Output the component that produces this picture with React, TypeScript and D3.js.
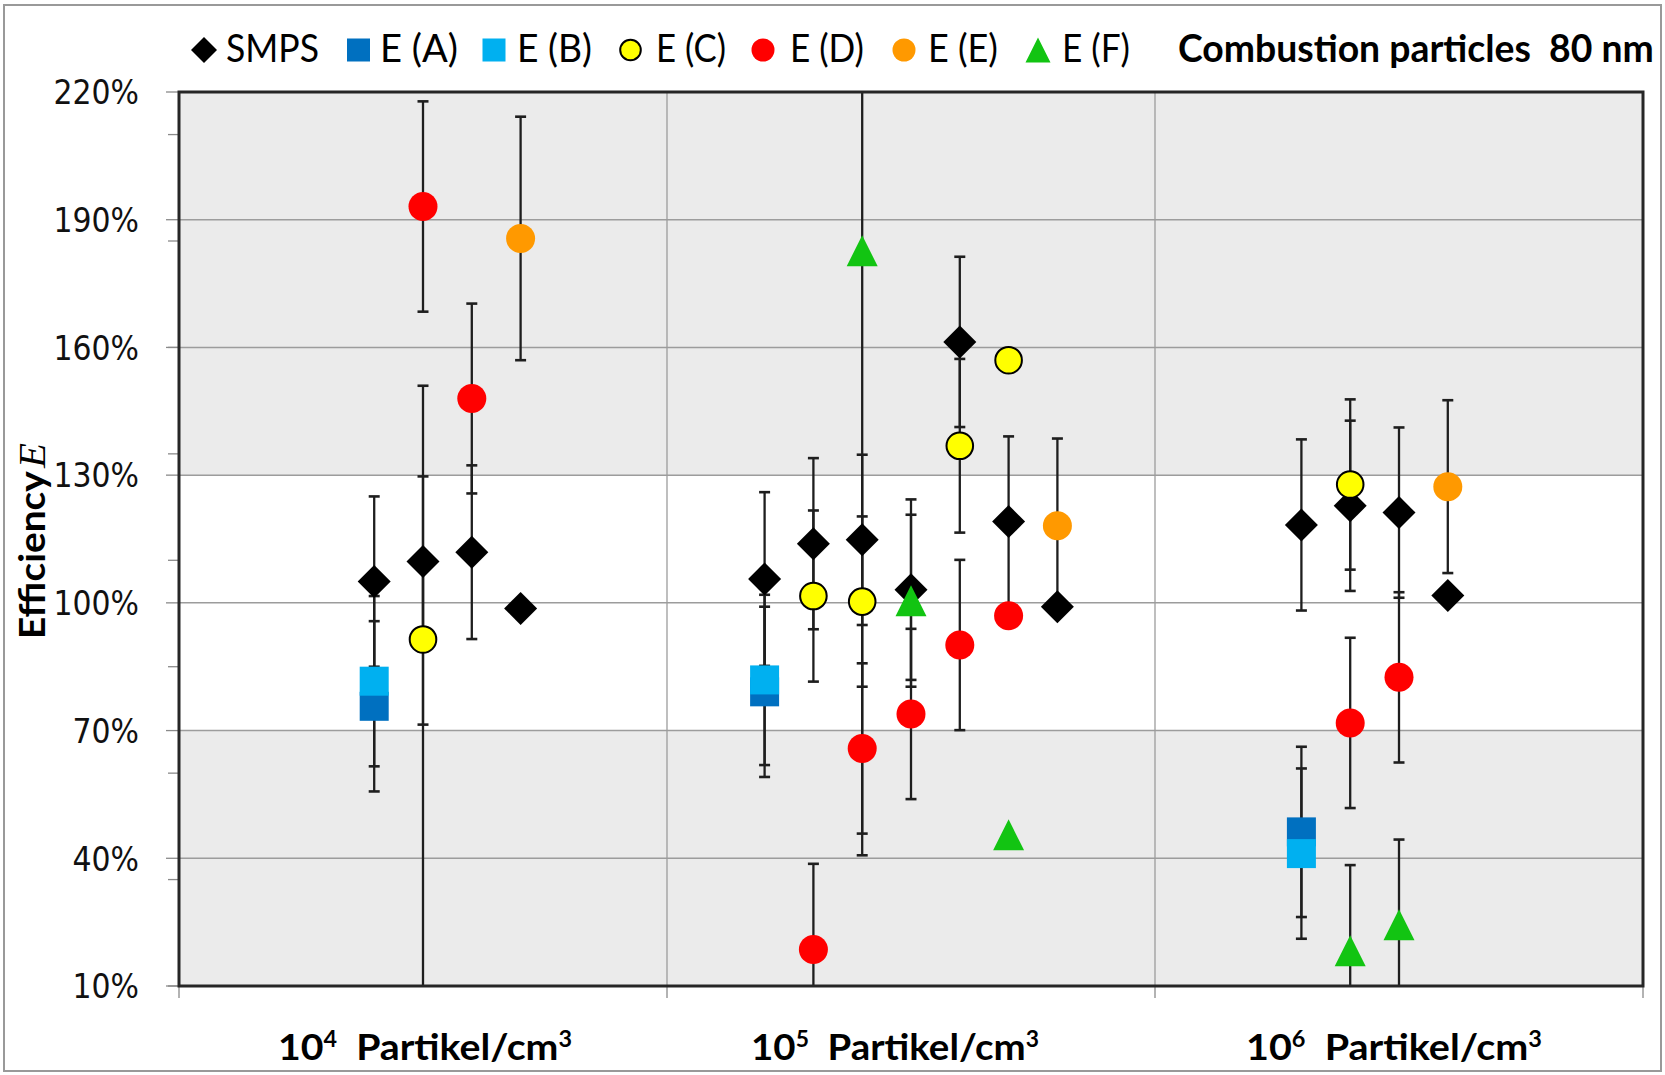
import React, { useRef, useState, useLayoutEffect } from 'react';
import * as d3 from 'd3';

// ---------- data ----------
const seriesNames = ['SMPS', 'E (A)', 'E (B)', 'E (C)', 'E (D)', 'E (E)', 'E (F)'];
const categoryExponents = ['4', '5', '6'];
const yTicks = [10, 40, 70, 100, 130, 160, 190, 220];
const minorTicks = [10, 35, 60, 85, 110, 135, 160, 185, 210];
const categoryBounds = [0, 10, 20, 30];

// [slot x, efficiency %, error ± (null = none)]
const smps: [number, number, number | null][] = [
  [4, 105.0, 20], [5, 109.7, 20], [6, 111.9, 20.4], [7, 98.7, null],
  [12, 105.6, 20.4], [13, 113.9, 20.1], [14, 114.8, 20], [15, 103.1, 21.2], [16, 161.3, 20], [17, 119.1, 20], [18, 99.1, null],
  [23, 118.3, 20.1], [24, 122.8, 20], [25, 121.2, 20], [26, 101.7, null],
];
const eA: [number, number, number | null][] = [[4, 75.7, 20], [12, 79.1, 20], [23, 46.2, 20]];
const eB: [number, number, number | null][] = [[4, 81.6, 20], [12, 81.9, 20], [23, 41.1, 20]];
const eC: [number, number, number | null][] = [
  [5, 91.4, 20], [13, 101.6, 20.1], [14, 100.3, 20], [16, 136.9, 20.4], [17, 157.0, null], [24, 127.8, 20],
];
const eD: [number, number, number | null][] = [
  [5, 193.1, 24.7], [6, 148.0, 22.3], [13, 18.6, 20.1], [14, 65.8, 20], [15, 73.9, 20], [16, 90.1, 20], [17, 97.0, null],
  [24, 71.8, 20], [25, 82.5, 20],
];
const eE: [number, number, number | null][] = [[7, 185.6, 28.6], [18, 118.1, 20.5], [26, 127.3, 20.3]];
const eF: [number, number, number | null][] = [
  [5, 5, 146], [14, 182.7, 142], [15, 100.5, 20.2], [17, 45.5, null], [24, 18.3, 20.1], [25, 24.4, 20],
];
const allSeries = [smps, eA, eB, eC, eD, eE, eF];

// ---------- styles ----------
type Shape = 'diamond' | 'square' | 'circle' | 'triangle';
const styles: { shape: Shape; fill: string; stroke?: string }[] = [
  { shape: 'diamond', fill: '#000000' },
  { shape: 'square', fill: '#0070C0' },
  { shape: 'square', fill: '#00B0F0' },
  { shape: 'circle', fill: '#FFFF00', stroke: '#000' },
  { shape: 'circle', fill: '#FF0000' },
  { shape: 'circle', fill: '#FF9900' },
  { shape: 'triangle', fill: '#12C412' },
];
const legendMarkerX = [204, 358.5, 494, 630.5, 763, 904, 1038];
const legendTextX = [226, 380, 517, 656, 790, 928, 1062];
const legendTextW = [93, 78, 75, 70, 74, 70, 68];

const W = 1665, H = 1075;
const L = 179, R = 1643, T = 92, B = 986;

function FitText(props: {
  x: number; y: number; width: number; anchor?: 'start' | 'middle' | 'end';
  style?: React.CSSProperties; children: React.ReactNode;
}) {
  const ref = useRef<SVGTextElement>(null);
  const [s, setS] = useState(1);
  useLayoutEffect(() => {
    if (ref.current) {
      const w = ref.current.getBBox().width;
      if (w > 0) setS(props.width / w);
    }
  }, [props.width]);
  return (
    <g transform={`translate(${props.x},${props.y}) scale(${s},1)`}>
      <text ref={ref} x={0} y={0} textAnchor={props.anchor || 'start'} style={props.style}>
        {props.children}
      </text>
    </g>
  );
}

function marker(shape: Shape, cx: number, cy: number, size: number, fill: string, stroke?: string, key?: string) {
  const h = size / 2;
  if (shape === 'diamond') {
    return <path key={key} d={`M${cx},${cy - h}L${cx + h},${cy}L${cx},${cy + h}L${cx - h},${cy}Z`} fill={fill} />;
  }
  if (shape === 'square') {
    return <rect key={key} x={cx - h} y={cy - h} width={size} height={size} fill={fill} />;
  }
  if (shape === 'circle') {
    return stroke
      ? <circle key={key} cx={cx} cy={cy} r={h - 1.2} fill={fill} stroke={stroke} strokeWidth={2} />
      : <circle key={key} cx={cx} cy={cy} r={h} fill={fill} />;
  }
  return <path key={key} d={`M${cx},${cy - h}L${cx + h},${cy + h}L${cx - h},${cy + h}Z`} fill={fill} />;
}

export default function App() {
  const x = d3.scaleLinear().domain([0, 30]).range([L, R]);
  const y = d3.scaleLinear().domain([10, 220]).range([B, T]);
  const [lo, hi] = y.domain();
  const inDom = (v: number) => v >= lo - 0.01 && v <= hi + 0.01;
  const markerSize: Record<Shape, number> = { diamond: 33, square: 29, circle: 29, triangle: 31 };
  const legendSize: Record<Shape, number> = { diamond: 26, square: 23, circle: 23, triangle: 25 };

  const catLabelCenters = [425, 895, 1394];
  const catLabelW = [294, 288, 296];

  return (
    <svg width={W} height={H} style={{ position: 'absolute', left: 0, top: 0, background: '#fff' }}>
      <defs>
        <clipPath id="plotclip"><rect x={L} y={T} width={R - L} height={B - T} /></clipPath>
      </defs>
      <rect x={4} y={5} width={W - 8} height={H - 9} fill="#fff" stroke="#999" strokeWidth={2} />

      {/* plot background */}
      <rect x={L} y={T} width={R - L} height={B - T} fill="#EBEBEB" />
      <rect x={L} y={y(130)} width={R - L} height={y(70) - y(130)} fill="#FFFFFF" />

      {/* gridlines */}
      {yTicks.map(t => (
        <line key={'g' + t} x1={L} x2={R} y1={y(t)} y2={y(t)} stroke="#9C9C9C" strokeWidth={1.5} />
      ))}
      {categoryBounds.slice(1, -1).map(c => (
        <line key={'v' + c} x1={x(c)} x2={x(c)} y1={T} y2={B} stroke="#9C9C9C" strokeWidth={1.3} />
      ))}

      {/* y ticks */}
      {yTicks.map(t => (
        <line key={'mt' + t} x1={L - 13} x2={L} y1={y(t)} y2={y(t)} stroke="#8A8A8A" strokeWidth={1.3} />
      ))}
      {minorTicks.map(t => (
        <line key={'nt' + t} x1={L - 11} x2={L} y1={y(t)} y2={y(t)} stroke="#8A8A8A" strokeWidth={1.3} />
      ))}
      {/* x ticks */}
      {categoryBounds.map(c => (
        <line key={'xt' + c} x1={x(c)} x2={x(c)} y1={B} y2={B + 12} stroke="#8A8A8A" strokeWidth={1.3} />
      ))}

      {/* error bars */}
      <g clipPath="url(#plotclip)">
        {allSeries.map((ser, si) => ser.map(([sx, v, e], i) => {
          if (e == null) return null;
          const cx = x(sx);
          const top = v + e, bot = v - e;
          return (
            <g key={`e${si}-${i}`} stroke="#1E1E1E" strokeWidth={2.3}>
              <line x1={cx} x2={cx} y1={y(Math.min(top, hi + 5))} y2={y(Math.max(bot, lo - 5))} />
              {inDom(top) && <line x1={cx - 5.5} x2={cx + 5.5} y1={y(top)} y2={y(top)} strokeWidth={2.6} />}
              {inDom(bot) && <line x1={cx - 5.5} x2={cx + 5.5} y1={y(bot)} y2={y(bot)} strokeWidth={2.6} />}
            </g>
          );
        }))}
      </g>

      {/* markers */}
      {allSeries.map((ser, si) => ser.filter(d => inDom(d[1])).map(([sx, v], i) => {
        const st = styles[si];
        return marker(st.shape, x(sx), y(v), markerSize[st.shape], st.fill, st.stroke, `m${si}-${i}`);
      }))}

      {/* plot border */}
      <rect x={L} y={T} width={R - L} height={B - T} fill="none" stroke="#262626" strokeWidth={3} />

      {/* y tick labels */}
      {yTicks.map(t => (
        <g key={'yl' + t} transform={`translate(139,${y(t)}) scale(0.88,1)`}>
          <text x={0} y={0} dy="0.36em" textAnchor="end"
            style={{ fontFamily: 'DejaVu Sans, Verdana, sans-serif', fontSize: 34, fill: '#111' }}>
            {t}%
          </text>
        </g>
      ))}

      {/* y axis title */}
      <g transform="translate(45,541) rotate(-90)">
        <FitText x={0} y={0} width={196} anchor="middle">
          <tspan style={{ fontFamily: 'Lato, Open Sans, sans-serif', fontWeight: 700, fontSize: 36 }}>Efficiency</tspan>
          <tspan dx={3} style={{ fontFamily: 'Liberation Serif, serif', fontStyle: 'italic', fontSize: 38 }}>E</tspan>
        </FitText>
      </g>

      {/* x category labels */}
      {categoryExponents.map((ex, i) => (
        <FitText key={'xl' + i} x={catLabelCenters[i]} y={1060} width={catLabelW[i]} anchor="middle"
          style={{ fontFamily: 'Lato, Open Sans, sans-serif', fontWeight: 700, fontSize: 37, fill: '#000' }}>
          <tspan>10</tspan>
          <tspan dy={-13} style={{ fontSize: 22 }}>{ex}</tspan>
          <tspan dy={13}>{'\u00A0\u00A0Partikel/cm'}</tspan>
          <tspan dy={-13} style={{ fontSize: 22 }}>3</tspan>
        </FitText>
      ))}

      {/* legend */}
      {seriesNames.map((n, i) => {
        const st = styles[i];
        return (
          <g key={'lg' + i}>
            {marker(st.shape, legendMarkerX[i], 50, legendSize[st.shape], st.fill, st.stroke)}
            <FitText x={legendTextX[i]} y={62} width={legendTextW[i]}
              style={{ fontFamily: 'Lato, Open Sans, sans-serif', fontSize: 38, fill: '#000' }}>
              {n}
            </FitText>
          </g>
        );
      })}
      <FitText x={1178} y={62} width={476}
        style={{ fontFamily: 'Lato, Open Sans, sans-serif', fontWeight: 700, fontSize: 38, fill: '#000', whiteSpace: 'pre' }}>
        {'Combustion particles\u00A0\u00A080 nm'}
      </FitText>
    </svg>
  );
}
